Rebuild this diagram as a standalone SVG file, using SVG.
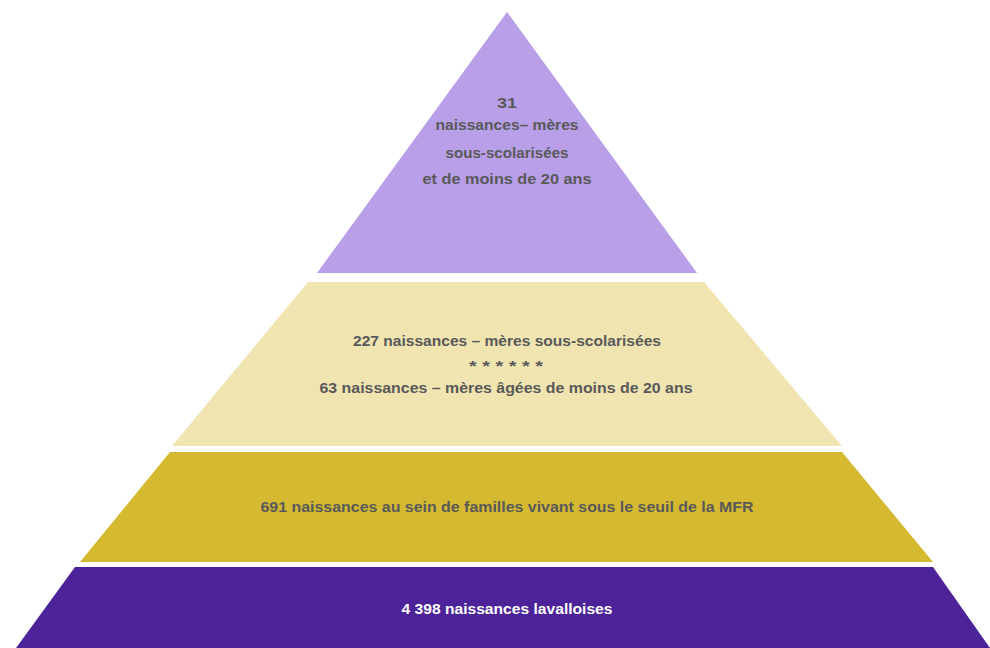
<svg xmlns="http://www.w3.org/2000/svg" width="990" height="648" viewBox="0 0 990 648">
<style>
.t{font-family:"Liberation Sans",Arial,sans-serif;font-weight:bold;font-size:15.5px;fill:#595959;text-anchor:middle}
.w{fill:#ffffff}
</style>
<rect x="0" y="0" width="990" height="648" fill="#ffffff"/>
<g id="tier1">
<polygon points="507,12 697,273 317,273" fill="#B89FE7"/>
<text class="t" x="507" y="108" textLength="20" lengthAdjust="spacingAndGlyphs">31</text>
<text class="t" x="507" y="130" textLength="143" lengthAdjust="spacingAndGlyphs">naissances– mères</text>
<text class="t" x="507" y="158" textLength="123" lengthAdjust="spacingAndGlyphs">sous-scolarisées</text>
<text class="t" x="507" y="184" textLength="169" lengthAdjust="spacingAndGlyphs">et de moins de 20 ans</text>
</g>
<g id="tier2">
<polygon points="308,282 704,282 842,446 172,446" fill="#F0E5B1"/>
<text class="t" x="507" y="346" textLength="308" lengthAdjust="spacingAndGlyphs">227 naissances – mères sous-scolarisées</text>
<text class="t" x="506" y="371" textLength="74" lengthAdjust="spacingAndGlyphs">* * * * * *</text>
<text class="t" x="506" y="393" textLength="373" lengthAdjust="spacingAndGlyphs">63 naissances – mères âgées de moins de 20 ans</text>
</g>
<g id="tier3">
<polygon points="170,452 842,452 933,562 80,562" fill="#D5B931"/>
<text class="t" x="507" y="512" textLength="493" lengthAdjust="spacingAndGlyphs">691 naissances au sein de familles vivant sous le seuil de la MFR</text>
</g>
<g id="tier4">
<polygon points="75,567 933,567 990,648 16,648" fill="#4C2399"/>
<text class="t w" x="507" y="614" textLength="211" lengthAdjust="spacingAndGlyphs">4 398 naissances lavalloises</text>
</g>
<g id="connectors"></g>
</svg>
